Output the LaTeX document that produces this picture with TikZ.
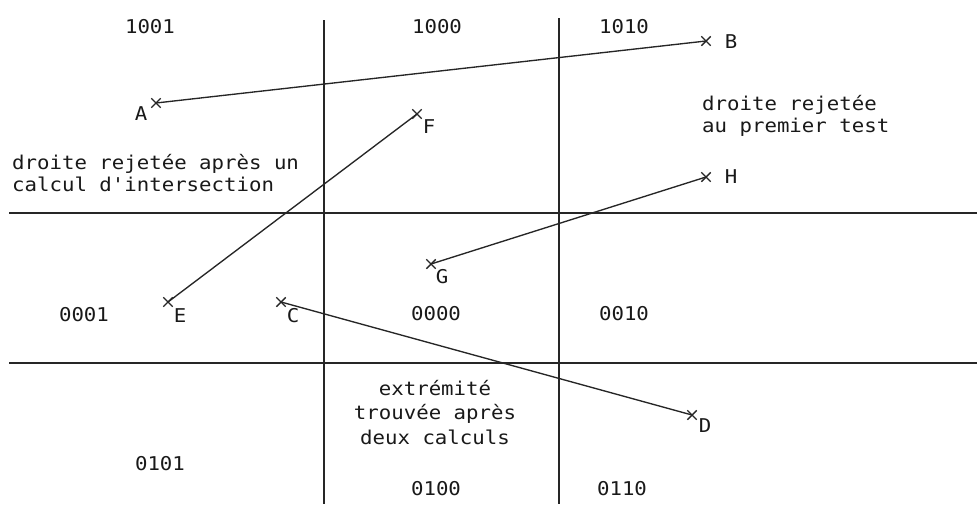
\documentclass[tikz,border=0pt]{standalone}
\usepackage{fontspec}
\newfontfamily\twfont[FakeStretch=1.09]{DejaVu Sans Mono}
\usetikzlibrary{shapes.misc}
\tikzset{
  every node/.style={font=\twfont\fontsize{19}{22}\selectfont, inner sep=0pt, text=black!90},
  grid/.style={line width=1.5pt, black!85},
  seg/.style={line width=1.35pt, black!85},
  ptmark/.style={cross out, draw=black!85, line width=1.4pt, minimum size=8pt, inner sep=0pt},
  ptlabel/.style={anchor=base},
  code/.style={anchor=base},
  remark/.style={anchor=base west, align=left},
}
\begin{document}
\begin{tikzpicture}[x=1pt,y=-1pt]
\useasboundingbox (0,0) rectangle (977,504);
% grid
\draw[grid] (324,20) -- (324,504);
\draw[grid] (559,18) -- (559,504);
\draw[grid] (9,213) -- (977,213);
\draw[grid] (9,363) -- (977,363);
% region codes
\node[code] (c1001) at (150,33) {1001};
\node[code] (c1000) at (437,33) {1000};
\node[code] (c1010) at (624,33) {1010};
\node[code] (c0001) at (84,321) {0001};
\node[code] (c0000) at (436,320) {0000};
\node[code] (c0010) at (624,320) {0010};
\node[code] (c0101) at (160,470) {0101};
\node[code] (c0100) at (436,495) {0100};
\node[code] (c0110) at (622,495) {0110};
% points
\node[ptmark] (A) at (156,103) {};
\node[ptmark] (B) at (706,41) {};
\node[ptmark] (F) at (417,114) {};
\node[ptmark] (H) at (706,177) {};
\node[ptmark] (G) at (431,264) {};
\node[ptmark] (E) at (168,302) {};
\node[ptmark] (C) at (281,302) {};
\node[ptmark] (D) at (692,415) {};
% point labels
\node[ptlabel] (lA) at (141,120) {A};
\node[ptlabel] (lB) at (731,48) {B};
\node[ptlabel] (lF) at (429,133) {F};
\node[ptlabel] (lH) at (731,183) {H};
\node[ptlabel] (lG) at (442,283) {G};
\node[ptlabel] (lE) at (180,322) {E};
\node[ptlabel] (lC) at (293,322) {C};
\node[ptlabel] (lD) at (705,432) {D};
% segments
\draw[seg] (A.center) -- (B.center);
\draw[seg] (E.center) -- (F.center);
\draw[seg] (G.center) -- (H.center);
\draw[seg] (C.center) -- (D.center);
% remarks (base anchor = baseline of last line)
\node[remark] (r1) at (12,191) {droite rejetée après un\\calcul d'intersection};
\node[remark] (r2) at (702,132) {droite rejetée\\au premier test};
\node[anchor=base, align=center, font=\twfont\fontsize{19}{24.5}\selectfont] (r3) at (435,444) {extrémité\\trouvée après\\deux calculs};
\end{tikzpicture}
\end{document}
